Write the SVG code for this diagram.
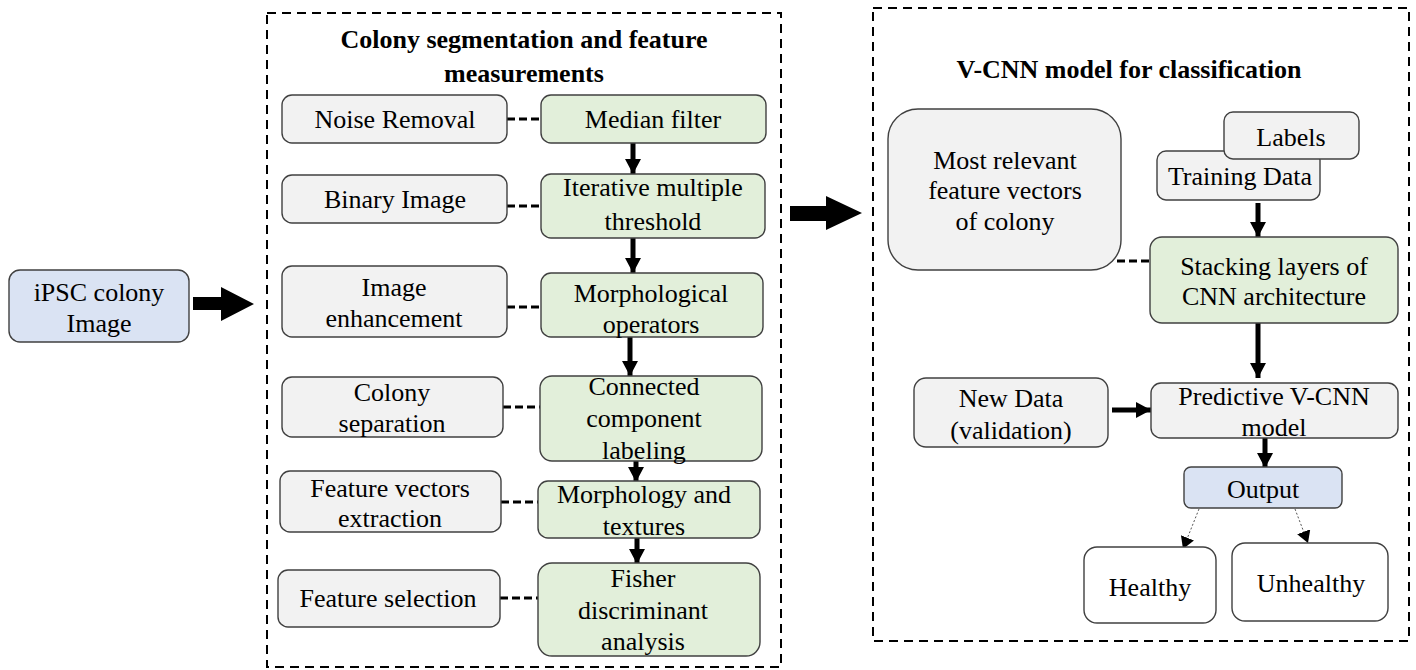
<svg xmlns="http://www.w3.org/2000/svg" width="1416" height="670" viewBox="0 0 1416 670">
<style>
text{font-family:"Liberation Serif","Times New Roman",serif;font-size:26px;fill:#000;text-anchor:middle}
.t{font-weight:bold;font-size:26px}
.g{fill:#f2f2f2;stroke:#404040;stroke-width:1.4}
.gr{fill:#e2efda;stroke:#404040;stroke-width:1.4}
.b{fill:#dae3f3;stroke:#404040;stroke-width:1.4}
.w{fill:#fff;stroke:#404040;stroke-width:1.4}
.frame{fill:none;stroke:#000;stroke-width:2;stroke-dasharray:9 6}
.dl{stroke:#000;stroke-width:3.2;stroke-dasharray:8 4;fill:none}
.ar{stroke:#000;stroke-width:5;fill:none}
.dot{stroke:#555;stroke-width:1;stroke-dasharray:2 2;fill:none}
</style>
<defs>
<marker id="ah" markerUnits="userSpaceOnUse" markerWidth="18" markerHeight="16" refX="15" refY="8" orient="auto"><path d="M0,0 L15,8 L0,16 z" fill="#000"/></marker>
<marker id="sh" markerUnits="userSpaceOnUse" markerWidth="14" markerHeight="14" refX="12" refY="7" orient="auto"><path d="M0,0 L12,7 L0,14 z" fill="#000"/></marker>
</defs>
<rect width="1416" height="670" fill="#fff"/>
<rect class="frame" x="267" y="13" width="514" height="654"/>
<rect class="frame" x="873" y="8" width="536" height="633"/>
<text class="t" x="524" y="48">Colony segmentation and feature</text>
<text class="t" x="524" y="82">measurements</text>
<text class="t" x="1129" y="78">V-CNN model for classification</text>

<g id="connectors">
<polygon points="193,297 221,297 221,287 254,304 221,321 221,310 193,310" fill="#000"/>
<polygon points="790,206 826,206 826,196 862,213 826,230 826,221 790,221" fill="#000"/>
<line class="dl" x1="507" y1="119" x2="541" y2="119"/>
<line class="dl" x1="507" y1="206" x2="541" y2="206"/>
<line class="dl" x1="507" y1="307" x2="541" y2="307"/>
<line class="dl" x1="503" y1="407" x2="540" y2="407"/>
<line class="dl" x1="501" y1="502" x2="538" y2="502"/>
<line class="dl" x1="500" y1="598" x2="538" y2="598"/>
<line class="dl" x1="1117" y1="261" x2="1150" y2="261"/>
<line class="ar" x1="633" y1="143" x2="633" y2="174" marker-end="url(#ah)"/>
<line class="ar" x1="633" y1="238" x2="633" y2="273" marker-end="url(#ah)"/>
<line class="ar" x1="630" y1="337" x2="630" y2="376" marker-end="url(#ah)"/>
<line class="ar" x1="636" y1="457" x2="636" y2="482" marker-end="url(#ah)"/>
<line class="ar" x1="637" y1="538" x2="637" y2="564" marker-end="url(#ah)"/>
<line class="ar" x1="1258" y1="203" x2="1258" y2="237" marker-end="url(#ah)"/>
<line class="ar" x1="1258" y1="323" x2="1258" y2="378" marker-end="url(#ah)"/>
<line class="ar" x1="1112" y1="410" x2="1151" y2="410" marker-end="url(#ah)"/>
<line class="ar" x1="1265" y1="438" x2="1265" y2="468" marker-end="url(#ah)"/>
<line class="dot" x1="1199" y1="509" x2="1183" y2="549" marker-end="url(#sh)"/>
<line class="dot" x1="1295" y1="509" x2="1308" y2="543" marker-end="url(#sh)"/>
</g>

<g id="ipsc"><rect class="b" x="9" y="270" width="180" height="72" rx="11"/><text x="99" y="301">iPSC colony</text><text x="99" y="332">Image</text></g>

<g id="noise"><rect class="g" x="282" y="95" width="225" height="48" rx="10"/><text x="395" y="128">Noise Removal</text></g>
<g id="median"><rect class="gr" x="541" y="95" width="225" height="48" rx="10"/><text x="653" y="128">Median filter</text></g>
<g id="binary"><rect class="g" x="282" y="175" width="225" height="48" rx="10"/><text x="395" y="208">Binary Image</text></g>
<g id="iterative"><rect class="gr" x="541" y="174" width="224" height="64" rx="10"/><text x="653" y="196">Iterative multiple</text><text x="653" y="230">threshold</text></g>
<g id="enhance"><rect class="g" x="282" y="266" width="225" height="71" rx="10"/><text x="394" y="296">Image</text><text x="394" y="327">enhancement</text></g>
<g id="morphop"><rect class="gr" x="541" y="273" width="222" height="64" rx="10"/><text x="651" y="302">Morphological</text><text x="651" y="333">operators</text></g>
<g id="colonysep"><rect class="g" x="282" y="377" width="221" height="60" rx="10"/><text x="392" y="401">Colony</text><text x="392" y="432">separation</text></g>
<g id="connected"><rect class="gr" x="540" y="376" width="222" height="85" rx="12"/><text x="644" y="395">Connected</text><text x="644" y="427">component</text><text x="644" y="459">labeling</text></g>
<g id="featvec"><rect class="g" x="280" y="471" width="221" height="61" rx="10"/><text x="390" y="497">Feature vectors</text><text x="390" y="527">extraction</text></g>
<g id="morphtex"><rect class="gr" x="538" y="481" width="222" height="57" rx="10"/><text x="644" y="503">Morphology and</text><text x="644" y="535">textures</text></g>
<g id="featsel"><rect class="g" x="278" y="570" width="222" height="57" rx="10"/><text x="388" y="607">Feature selection</text></g>
<g id="fisher"><rect class="gr" x="538" y="563" width="222" height="93" rx="14"/><text x="643" y="587">Fisher</text><text x="643" y="619">discriminant</text><text x="643" y="650">analysis</text></g>

<g id="relevant"><rect class="g" x="888" y="109" width="233" height="161" rx="30"/><text x="1005" y="169">Most relevant</text><text x="1005" y="199">feature vectors</text><text x="1005" y="230">of colony</text></g>
<g id="training"><rect class="g" x="1157" y="151" width="163" height="49" rx="9"/><text x="1240" y="185">Training Data</text></g>
<g id="labels"><rect class="g" x="1224" y="112" width="135" height="47" rx="9"/><text x="1291" y="146">Labels</text></g>
<g id="stacking"><rect class="gr" x="1150" y="237" width="248" height="86" rx="12"/><text x="1274" y="275">Stacking layers of</text><text x="1274" y="305">CNN architecture</text></g>
<g id="newdata"><rect class="g" x="914" y="378" width="194" height="69" rx="12"/><text x="1011" y="407">New Data</text><text x="1011" y="439">(validation)</text></g>
<g id="predictive"><rect class="g" x="1151" y="383" width="247" height="55" rx="10"/><text x="1274" y="405">Predictive V-CNN</text><text x="1274" y="436">model</text></g>
<g id="output"><rect class="b" x="1184" y="467" width="158" height="41" rx="7"/><text x="1263" y="498">Output</text></g>
<g id="healthy"><rect class="w" x="1084" y="547" width="132" height="76" rx="13"/><text x="1150" y="596">Healthy</text></g>
<g id="unhealthy"><rect class="w" x="1232" y="543" width="156" height="78" rx="13"/><text x="1311" y="592">Unhealthy</text></g>
</svg>
